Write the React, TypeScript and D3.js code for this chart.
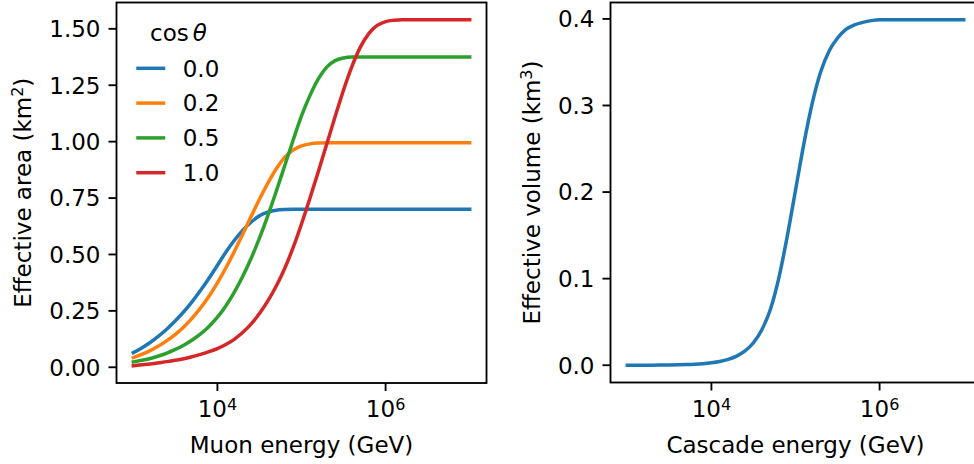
import React from "react";
import * as d3 from "d3";

// log10 of energy (GeV), sampled every 0.1 decade
const logEnergy = [
  3.0, 3.1, 3.2, 3.3, 3.4, 3.5, 3.6, 3.7, 3.8, 3.9,
  4.0, 4.1, 4.2, 4.3, 4.4, 4.5, 4.6, 4.7, 4.8, 4.9,
  5.0, 5.1, 5.2, 5.3, 5.4, 5.5, 5.6, 5.7, 5.8, 5.9,
  6.0, 6.1, 6.2, 6.3, 6.4, 6.5, 6.6, 6.7, 6.8, 6.9, 7.0,
];

const cosLabels = ["0.0", "0.2", "0.5", "1.0"];
const areaCos00 = [
  0.065, 0.086, 0.11, 0.138, 0.17, 0.206, 0.246, 0.291, 0.341, 0.395,
  0.452, 0.51, 0.562, 0.607, 0.643, 0.672, 0.688, 0.696, 0.699, 0.7,
  0.7, 0.7, 0.7, 0.7, 0.7, 0.7, 0.7, 0.7, 0.7, 0.7,
  0.7, 0.7, 0.7, 0.7, 0.7, 0.7, 0.7, 0.7, 0.7, 0.7, 0.7,
];
const areaCos02 = [
  0.043, 0.057, 0.074, 0.094, 0.118, 0.146, 0.179, 0.218, 0.263, 0.315,
  0.374, 0.44, 0.512, 0.589, 0.668, 0.745, 0.816, 0.88, 0.93, 0.963,
  0.981, 0.99, 0.994, 0.995, 0.995, 0.995, 0.995, 0.995, 0.995, 0.995,
  0.995, 0.995, 0.995, 0.995, 0.995, 0.995, 0.995, 0.995, 0.995, 0.995, 0.995,
];
const areaCos05 = [
  0.024, 0.031, 0.039, 0.05, 0.063, 0.079, 0.098, 0.121, 0.148, 0.181,
  0.222, 0.272, 0.332, 0.402, 0.482, 0.572, 0.672, 0.78, 0.893, 1.006,
  1.114, 1.204, 1.278, 1.33, 1.359, 1.371, 1.375, 1.375, 1.375, 1.375,
  1.375, 1.375, 1.375, 1.375, 1.375, 1.375, 1.375, 1.375, 1.375, 1.375, 1.375,
];
const areaCos10 = [
  0.007, 0.011, 0.015, 0.02, 0.025, 0.031, 0.038, 0.047, 0.057, 0.069,
  0.083, 0.101, 0.124, 0.154, 0.191, 0.238, 0.294, 0.36, 0.438, 0.53,
  0.635, 0.749, 0.867, 0.989, 1.111, 1.229, 1.334, 1.419, 1.479, 1.515,
  1.532, 1.538, 1.54, 1.54, 1.54, 1.54, 1.54, 1.54, 1.54, 1.54, 1.54,
];
const cascadeVolume = [
  0, 0, 0.0001, 0.0001, 0.0002, 0.0003, 0.0005, 0.0008, 0.0012, 0.0018,
  0.0028, 0.0043, 0.0067, 0.0105, 0.0165, 0.026, 0.041, 0.064, 0.1, 0.148,
  0.202, 0.256, 0.303, 0.339, 0.363, 0.378, 0.388, 0.393, 0.396, 0.398,
  0.399, 0.399, 0.399, 0.399, 0.399, 0.399, 0.399, 0.399, 0.399, 0.399, 0.399,
];

const areaTicks = [0, 0.25, 0.5, 0.75, 1.0, 1.25, 1.5];
const volumeTicks = [0, 0.1, 0.2, 0.3, 0.4];
const energyTickExps = [4, 6];

const colors = ["#1f77b4", "#ff7f0e", "#2ca02c", "#d62728"];
const FONT = "DejaVu Sans";
const FS = 23;
const LW = 3.5;
const SPINE = 1.85;
const TICK = 8;

function padDomain(vals: number[]): [number, number] {
  const [lo, hi] = d3.extent(vals) as [number, number];
  const p = (hi - lo) * 0.05;
  return [lo - p, hi + p];
}

function Panel(props: {
  left: number;
  top: number;
  width: number;
  height: number;
  series: number[][];
  seriesColors: string[];
  yTicks: number[];
  yFmt: (v: number) => string;
  xLabel: string;
  yLabel: string;
  ySup: string;
  yLabelX: number;
  children?: React.ReactNode;
}) {
  const { left, top, width, height, series, seriesColors, yTicks, yFmt } = props;
  const right = left + width;
  const bottom = top + height;
  const xs = logEnergy.map((l) => Math.pow(10, l));
  const [lx0, lx1] = d3.extent(logEnergy) as [number, number];
  const lpad = (lx1 - lx0) * 0.05;
  const x = d3.scaleLog().domain([Math.pow(10, lx0 - lpad), Math.pow(10, lx1 + lpad)]).range([left, right]);
  const y = d3.scaleLinear().domain(padDomain(series.flat())).range([bottom, top]);
  const line = d3
    .line<number>()
    .x((_, i) => x(xs[i]))
    .y((d) => y(d))
    .curve(d3.curveMonotoneX);
  const cy = (top + bottom) / 2;
  const cx = (left + right) / 2;
  return (
    <g>
      {series.map((s, i) => (
        <path key={i} d={line(s) || ""} fill="none" stroke={seriesColors[i]} strokeWidth={LW} strokeLinecap="square" strokeLinejoin="round" />
      ))}
      <rect x={left} y={top} width={width} height={height} fill="none" stroke="#000" strokeWidth={SPINE} />
      {yTicks.map((t) => (
        <g key={t}>
          <line x1={left - TICK} x2={left} y1={y(t)} y2={y(t)} stroke="#000" strokeWidth={SPINE} />
          <text x={left - TICK - 8} y={y(t) + 8.3} textAnchor="end" fontFamily={FONT} fontSize={FS} fill="#000">
            {yFmt(t)}
          </text>
        </g>
      ))}
      {energyTickExps.map((e) => (
        <g key={e}>
          <line x1={x(Math.pow(10, e))} x2={x(Math.pow(10, e))} y1={bottom} y2={bottom + TICK} stroke="#000" strokeWidth={SPINE} />
          <text x={x(Math.pow(10, e))} y={417} textAnchor="middle" fontFamily={FONT} fontSize={FS} fill="#000">
            10
            <tspan dy={-7.5} fontSize={16}>
              {e}
            </tspan>
          </text>
        </g>
      ))}
      <text x={cx} y={452.7} textAnchor="middle" fontFamily={FONT} fontSize={FS} fill="#000">
        {props.xLabel}
      </text>
      <text
        transform={`translate(${props.yLabelX},${cy}) rotate(-90)`}
        textAnchor="middle"
        fontFamily={FONT}
        fontSize={FS}
        fill="#000"
      >
        {props.yLabel}
        <tspan dy={-8} fontSize={16}>
          {props.ySup}
        </tspan>
        <tspan dy={8}>)</tspan>
      </text>
      {props.children}
    </g>
  );
}

export default function App() {
  const areaSeries = [areaCos00, areaCos02, areaCos05, areaCos10];
  const legendTop = 68.3;
  const legendStep = 34.8;
  return (
    <svg width={974} height={464} style={{ position: "absolute", left: 0, top: 0, background: "#fff" }}>
      <rect x={0} y={0} width={974} height={464} fill="#fff" />
      <Panel
        left={116.5}
        top={2.5}
        width={370}
        height={380.5}
        series={areaSeries}
        seriesColors={colors}
        yTicks={areaTicks}
        yFmt={(v) => v.toFixed(2)}
        xLabel="Muon energy (GeV)"
        yLabel="Effective area (km"
        ySup="2"
        yLabelX={31}
      >
        <text x={150} y={41} fontFamily={FONT} fontSize={FS} fill="#000">
          cos
          <tspan dx={4} fontStyle="italic">
            θ
          </tspan>
        </text>
        {cosLabels.map((lab, i) => (
          <g key={lab}>
            <line
              x1={138}
              x2={163.5}
              y1={legendTop + i * legendStep}
              y2={legendTop + i * legendStep}
              stroke={colors[i]}
              strokeWidth={LW}
              strokeLinecap="square"
            />
            <text x={182.7} y={legendTop + i * legendStep + 8.3} fontFamily={FONT} fontSize={FS} fill="#000">
              {lab}
            </text>
          </g>
        ))}
      </Panel>
      <Panel
        left={610.5}
        top={2.5}
        width={370}
        height={380}
        series={[cascadeVolume]}
        seriesColors={[colors[0]]}
        yTicks={volumeTicks}
        yFmt={(v) => v.toFixed(1)}
        xLabel="Cascade energy (GeV)"
        yLabel="Effective volume (km"
        ySup="3"
        yLabelX={540}
      />
    </svg>
  );
}
